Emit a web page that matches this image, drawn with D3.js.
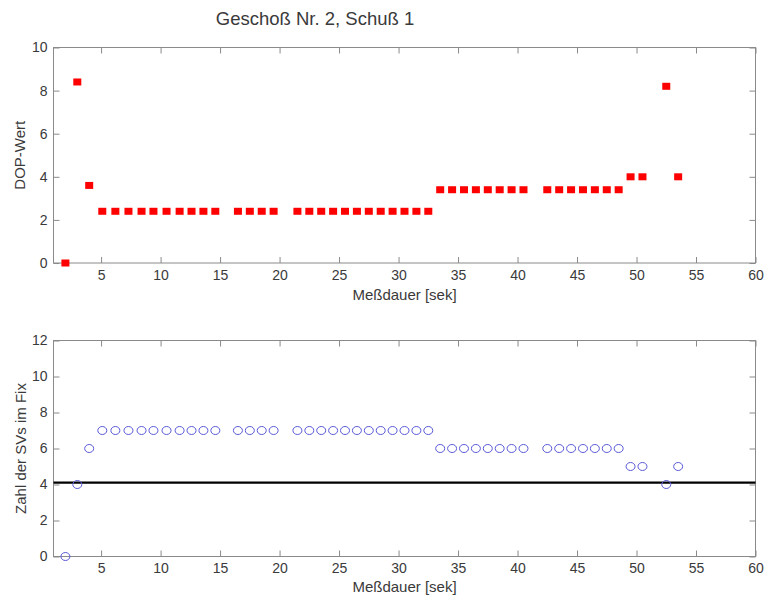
<!DOCTYPE html>
<html>
<head>
<meta charset="utf-8">
<script src="https://cdn.jsdelivr.net/npm/d3@7"></script>
<style>
  html, body { margin: 0; padding: 0; background: #fff; }
  svg { display: block; }
  text { font-family: "Liberation Sans", Arial, Helvetica, sans-serif; }
</style>
</head>
<body>
<svg id="chart" width="765" height="596"></svg>
<script>
// ---- data ----
const titleText = "Geschoß Nr. 2, Schuß 1";
const xLabel = "Meßdauer [sek]";
const yLabelTop = "DOP-Wert";
const yLabelBottom = "Zahl der SVs im Fix";

const time = [2, 3, 4,
  5.1, 6.2, 7.3, 8.4, 9.4, 10.5, 11.6, 12.6, 13.6, 14.6,
  16.5, 17.5, 18.5, 19.5,
  21.5, 22.5, 23.5, 24.5, 25.5, 26.5, 27.5, 28.5, 29.5, 30.5, 31.5, 32.5,
  33.5, 34.5, 35.5, 36.5, 37.5, 38.5, 39.5, 40.5,
  42.5, 43.5, 44.5, 45.5, 46.5, 47.5, 48.5,
  49.5, 50.5, 52.5, 53.5];

const dop = [0, 8.4, 3.6,
  2.4, 2.4, 2.4, 2.4, 2.4, 2.4, 2.4, 2.4, 2.4, 2.4,
  2.4, 2.4, 2.4, 2.4,
  2.4, 2.4, 2.4, 2.4, 2.4, 2.4, 2.4, 2.4, 2.4, 2.4, 2.4, 2.4,
  3.4, 3.4, 3.4, 3.4, 3.4, 3.4, 3.4, 3.4,
  3.4, 3.4, 3.4, 3.4, 3.4, 3.4, 3.4,
  4.0, 4.0, 8.2, 4.0];

const sats = [0, 4, 6,
  7, 7, 7, 7, 7, 7, 7, 7, 7, 7,
  7, 7, 7, 7,
  7, 7, 7, 7, 7, 7, 7, 7, 7, 7, 7, 7,
  6, 6, 6, 6, 6, 6, 6, 6,
  6, 6, 6, 6, 6, 6, 6,
  5, 5, 4, 5];

const satThreshold = [4.1];

const xDomain = [1, 60];
const xTicks = [5, 10, 15, 20, 25, 30, 35, 40, 45, 50, 55, 60];
const dopDomain = [0, 10];
const dopTicks = [0, 2, 4, 6, 8, 10];
const satDomain = [0, 12];
const satTicks = [0, 2, 4, 6, 8, 10, 12];

// ---- layout ----
const svg = d3.select("#chart");
const left = 53.5, right = 755.5;
const topPanel = { y0: 47.5, y1: 263 };
const botPanel = { y0: 340.5, y1: 556.5 };
const axisColor = "#8a8a8a";
const labelColor = "#3a3a3a";
const tickFont = 14;
const labelFont = 15;

const x = d3.scaleLinear().domain(xDomain).range([left, right]);

function drawAxes(y, yTicks, panel) {
  const g = svg.append("g");
  g.append("rect")
    .attr("x", left).attr("y", panel.y0)
    .attr("width", right - left).attr("height", panel.y1 - panel.y0)
    .attr("fill", "none").attr("stroke", axisColor).attr("stroke-width", 1);

  const bottom = g.append("g").attr("transform", `translate(0,${panel.y1})`)
    .call(d3.axisBottom(x).tickValues(xTicks).tickSizeInner(-6).tickSizeOuter(0).tickPadding(7));
  const top = g.append("g").attr("transform", `translate(0,${panel.y0})`)
    .call(d3.axisTop(x).tickValues(xTicks).tickSizeInner(-6).tickSizeOuter(0).tickFormat(""));
  const lft = g.append("g").attr("transform", `translate(${left},0)`)
    .call(d3.axisLeft(y).tickValues(yTicks).tickSizeInner(-6).tickSizeOuter(0).tickPadding(6));
  const rgt = g.append("g").attr("transform", `translate(${right},0)`)
    .call(d3.axisRight(y).tickValues(yTicks).tickSizeInner(-6).tickSizeOuter(0).tickFormat(""));

  [bottom, top, lft, rgt].forEach(a => {
    a.select(".domain").remove();
    a.selectAll(".tick line").attr("stroke", axisColor);
    a.selectAll(".tick text").attr("fill", labelColor)
      .style("font-size", tickFont + "px")
      .style("font-family", '"Liberation Sans", Arial, sans-serif');
  });
  return g;
}

// ---- top panel ----
const yTop = d3.scaleLinear().domain(dopDomain).range([topPanel.y1, topPanel.y0]);
drawAxes(yTop, dopTicks, topPanel);

const sqW = 8, sqH = 7;
svg.append("g").selectAll("rect")
  .data(time.map((t, i) => ({ t, v: dop[i] })))
  .join("rect")
  .attr("x", d => x(d.t) - sqW / 2)
  .attr("y", d => yTop(d.v) - sqH / 2)
  .attr("width", sqW).attr("height", sqH)
  .attr("fill", "#ff0000");

svg.append("text")
  .attr("x", 315).attr("y", 25)
  .attr("text-anchor", "middle")
  .attr("fill", labelColor)
  .style("font-size", "18.5px")
  .text(titleText);

svg.append("text")
  .attr("x", (left + right) / 2).attr("y", 300)
  .attr("text-anchor", "middle")
  .attr("fill", labelColor)
  .style("font-size", labelFont + "px")
  .text(xLabel);

svg.append("text")
  .attr("transform", `translate(20,${(topPanel.y0 + topPanel.y1) / 2}) rotate(-90)`)
  .attr("text-anchor", "middle")
  .attr("dy", "0.35em")
  .attr("fill", labelColor)
  .style("font-size", labelFont + "px")
  .text(yLabelTop);

// ---- bottom panel ----
const yBot = d3.scaleLinear().domain(satDomain).range([botPanel.y1, botPanel.y0]);
drawAxes(yBot, satTicks, botPanel);

svg.append("g").selectAll("line")
  .data(satThreshold)
  .join("line")
  .attr("x1", x(xDomain[0])).attr("x2", x(xDomain[1]))
  .attr("y1", d => yBot(d)).attr("y2", d => yBot(d))
  .attr("stroke", "#000").attr("stroke-width", 2.2);

svg.append("g").selectAll("ellipse")
  .data(time.map((t, i) => ({ t, v: sats[i] })))
  .join("ellipse")
  .attr("cx", d => x(d.t))
  .attr("cy", d => yBot(d.v))
  .attr("rx", 4.5).attr("ry", 4)
  .attr("fill", "none")
  .attr("stroke", "#5a5ad8")
  .attr("stroke-width", 1);

svg.append("text")
  .attr("x", (left + right) / 2).attr("y", 592)
  .attr("text-anchor", "middle")
  .attr("fill", labelColor)
  .style("font-size", labelFont + "px")
  .text(xLabel);

svg.append("text")
  .attr("transform", `translate(21,${(botPanel.y0 + botPanel.y1) / 2}) rotate(-90)`)
  .attr("text-anchor", "middle")
  .attr("dy", "0.35em")
  .attr("fill", labelColor)
  .style("font-size", labelFont + "px")
  .text(yLabelBottom);
</script>
</body>
</html>
